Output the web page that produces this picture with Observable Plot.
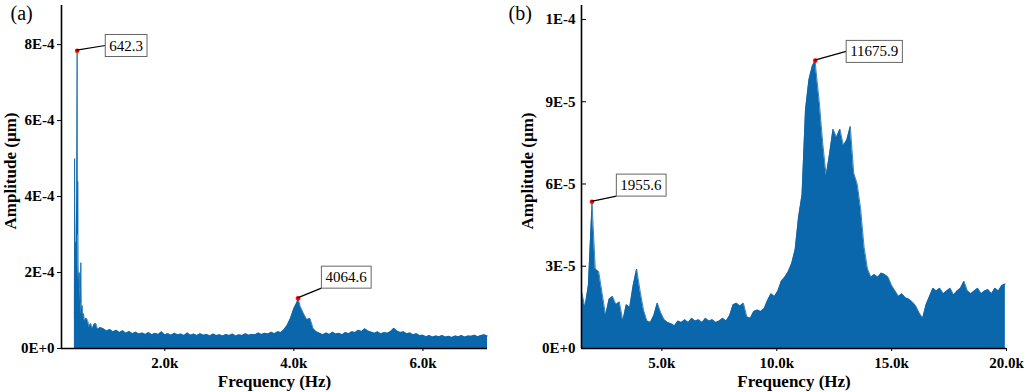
<!DOCTYPE html>
<html>
<head>
<meta charset="utf-8">
<script src="https://cdn.jsdelivr.net/npm/d3@7"></script>
<script src="https://cdn.jsdelivr.net/npm/@observablehq/plot@0.6"></script>
<style>
  html, body { margin: 0; padding: 0; background: #fff; }
  #wrap { display: flex; width: 1024px; height: 392px; overflow: hidden; }
  svg text { font-family: 'Liberation Serif', 'Times New Roman', serif; }
</style>
</head>
<body>
<div id="wrap"></div>
<script>
// ---------- DATA (amplitudes in units of 1e-5 µm) ----------
// Panel (a): low-frequency spike region
const lowFreqA = [600, 603, 608, 615, 622, 630, 636, 648, 652, 658, 666, 675, 688, 700, 708, 720, 730, 740, 760, 780, 805, 830, 850, 880, 905, 930, 960];
const lowAmpA  = [8, 50, 12, 28, 18, 32, 40, 30, 44, 22, 16, 20, 12, 22.6, 9, 11.3, 8, 9.2, 7, 8, 7.4, 5.5, 6.6, 5.2, 6.4, 6.6, 5];
// Panel (a): spectrum envelope from 1000 Hz every 50 Hz up to 7000 Hz
const gridStartA = 1000, gridStepA = 50;
const gridAmpA = [
  5.5,5.2,4.6,5.0,4.4,4.8,4.2,4.7,4.0,4.5,
  3.9,4.3,3.8,4.1,3.7,4.2,3.6,4.0,3.7,4.4,
  3.6,3.9,3.5,4.0,3.6,3.8,3.4,4.1,3.5,3.8,
  3.4,3.9,3.5,3.7,3.3,3.8,3.4,3.6,3.3,3.7,
  3.4,3.8,3.3,3.6,3.4,3.9,3.5,3.7,3.6,4.1,
  3.7,4.0,3.8,4.3,3.9,4.4,4.2,5.0,6.2,8.0,
  10.5,12.2,11.0,9.2,7.6,7.9,5.2,4.4,4.0,3.6,
  4.1,3.7,4.3,3.8,4.0,3.6,4.2,3.9,4.4,4.2,
  4.8,4.5,5.2,4.6,4.3,4.0,4.4,3.8,4.2,4.0,
  4.5,5.3,4.6,4.2,4.4,3.9,4.1,3.6,3.9,3.4,
  3.5,3.1,3.4,3.0,3.3,3.1,3.4,3.0,3.2,2.9,
  3.3,3.1,3.4,3.0,3.3,3.2,3.5,3.1,3.4,3.6,
  3.3
];
const peakFreqA  = [642.3, 4064.6];
const peakAmpA   = [78.4, 13.2];
const peakLabelA = ["642.3", "4064.6"];
const xTicksA = [2000, 4000, 6000];
const xTickLabelsA = ["2.0k", "4.0k", "6.0k"];
const yTicksA = [0, 20, 40, 60, 80];
const yTickLabelsA = ["0E+0", "2E-4", "4E-4", "6E-4", "8E-4"];

// Panel (b): spectrum envelope from 1500 Hz every 150 Hz up to 19950 Hz
const gridStartB = 1500, gridStepB = 150;
const gridAmpB = [
  2.1,1.5,2.3,5.1,2.9,2.8,2.0,1.2,1.8,1.9,1.6,1.7,1.0,1.6,1.5,2.3,2.9,2.1,1.4,1.0,0.95,1.2,1.66,1.3,1.05,
  0.95,0.9,0.83,1.0,0.95,1.05,0.95,1.1,1.0,1.05,0.95,1.1,1.0,1.05,0.95,1.0,1.1,1.0,
  1.2,1.6,1.65,1.55,1.65,1.15,1.1,1.35,1.4,1.35,1.45,1.75,2.0,1.9,2.1,2.45,2.6,2.8,3.1,
  3.6,4.8,5.6,8.7,9.8,10.3,10.2,9.0,7.5,6.3,7.1,8.0,7.7,8.0,7.4,7.6,8.1,6.4,6.0,5.1,3.7,2.9,2.6,
  2.7,2.6,2.75,2.7,2.6,
  2.3,2.1,1.9,2.0,1.85,1.8,1.7,1.55,1.3,1.1,
  1.6,1.9,2.2,2.1,2.2,2.0,2.1,2.2,1.95,2.1,2.2,2.45,
  2.1,2.0,2.1,2.2,2.0,2.1,2.15,2.0,2.2,2.1,2.3,2.35
];
const peakFreqB  = [1955.6, 11675.9];
const peakAmpB   = [5.35, 10.5];
const peakLabelB = ["1955.6", "11675.9"];
const xTicksB = [5000, 10000, 15000, 20000];
const xTickLabelsB = ["5.0k", "10.0k", "15.0k", "20.0k"];
const yTicksB = [0, 3, 6, 9, 12];
const yTickLabelsB = ["0E+0", "3E-5", "6E-5", "9E-5", "1E-4"];

// ---------- BUILD ----------
const BLUE = "#0a67ab";
const FONT = "'Liberation Serif', 'Times New Roman', serif";

function buildSeries(lowF, lowA, start, step, amps, pf, pa) {
  const pts = [];
  lowF.forEach((f, i) => pts.push({ f, a: lowA[i] }));
  amps.forEach((a, i) => pts.push({ f: start + i * step, a }));
  pf.forEach((f, i) => pts.push({ f, a: pa[i] }));
  return pts.sort((p, q) => p.f - q.f);
}
const seriesA = buildSeries(lowFreqA, lowAmpA, gridStartA, gridStepA, gridAmpA, peakFreqA, peakAmpA);
const seriesB = buildSeries([], [], gridStartB, gridStepB, gridAmpB, peakFreqB, peakAmpB);
const peaksA = peakFreqA.map((f, i) => ({ f, a: peakAmpA[i], label: peakLabelA[i] }));
const peaksB = peakFreqB.map((f, i) => ({ f, a: peakAmpB[i], label: peakLabelB[i] }));

function panel(cfg) {
  const xFmt = new Map(cfg.xTicks.map((t, i) => [t, cfg.xTickLabels[i]]));
  const yFmt = new Map(cfg.yTicks.map((t, i) => [t, cfg.yTickLabels[i]]));
  return Plot.plot({
    width: cfg.width, height: 392,
    marginLeft: cfg.marginLeft, marginRight: cfg.marginRight, marginTop: 5, marginBottom: 44,
    style: { fontFamily: FONT, fontSize: "15px", color: "#000", background: "#fff", overflow: "visible" },
    x: { domain: cfg.xDomain },
    y: { domain: cfg.yDomain },
    marks: [
      Plot.areaY(cfg.data, { x: "f", y: "a", fill: BLUE }),
      Plot.lineY(cfg.data, { x: "f", y: "a", stroke: BLUE, strokeWidth: 0.8 }),
      Plot.axisX({ ticks: cfg.xTicks, tickFormat: d => xFmt.get(d), tickSize: 3, tickPadding: 6, fontWeight: "bold", fontFamily: FONT, label: null }),
      Plot.axisY({ ticks: cfg.yTicks, tickFormat: d => yFmt.get(d), tickSize: cfg.yTickSize, tickPadding: cfg.yTickPadding, fontWeight: "bold", fontFamily: FONT, label: null }),
      Plot.ruleX([cfg.xDomain[0]], { stroke: "#000", strokeWidth: 1.6 }),
      Plot.ruleY([0], { stroke: "#000", strokeWidth: 1.6 }),
      Plot.dot(cfg.peaks, { x: "f", y: "a", r: 2.3, fill: "#ff0000" }),
      ...cfg.peaks.map((p, i) => Plot.text([p], {
        x: "f", y: "a", text: "label", dx: cfg.labelOffsets[i][0], dy: cfg.labelOffsets[i][1],
        fontSize: 15, fill: "#000", fontFamily: FONT
      })),
      Plot.text(["Frequency (Hz)"], { frameAnchor: "bottom", lineAnchor: "middle", dy: 33, fontSize: 17, fontWeight: "bold", fontFamily: FONT }),
      Plot.text(["Amplitude (µm)"], { frameAnchor: "left", textAnchor: "middle", lineAnchor: "middle", dx: cfg.yTitleDx, dy: -6, rotate: -90, fontSize: 17, fontWeight: "bold", fontFamily: FONT }),
      Plot.text([cfg.tag], { frameAnchor: "top-left", dx: cfg.tagDx, dy: 8, textAnchor: "start", lineAnchor: "middle", fontSize: 20, fontFamily: FONT })
    ]
  });
}

function decorate(plot, cfg) {
  const svgRect = plot.getBoundingClientRect();
  const xs = plot.scale("x"), ys = plot.scale("y");
  const labels = new Set(cfg.peaks.map(p => p.label));
  const texts = Array.from(plot.querySelectorAll("text")).filter(t => labels.has(t.textContent));
  const ns = "http://www.w3.org/2000/svg";
  texts.forEach(t => {
    const idx = cfg.peaks.findIndex(p => p.label === t.textContent);
    const p = cfg.peaks[idx];
    const r = t.getBoundingClientRect();
    const padX = 4, padY = 3;
    const bx = r.left - svgRect.left - padX, by = r.top - svgRect.top - padY;
    const bw = r.width + 2 * padX, bh = r.height + 2 * padY;
    let group = t;
    while (group.parentNode && group.parentNode !== plot) group = group.parentNode;
    const line = document.createElementNS(ns, "line");
    const px = xs.apply(p.f), py = ys.apply(p.a);
    line.setAttribute("x1", px); line.setAttribute("y1", py);
    line.setAttribute("x2", bx); line.setAttribute("y2", by + cfg.leaderFrac[idx] * bh);
    line.setAttribute("stroke", "#000"); line.setAttribute("stroke-width", "1.2");
    const rect = document.createElementNS(ns, "rect");
    rect.setAttribute("x", bx); rect.setAttribute("y", by);
    rect.setAttribute("width", bw); rect.setAttribute("height", bh);
    rect.setAttribute("fill", "#fff"); rect.setAttribute("stroke", "#666"); rect.setAttribute("stroke-width", "1");
    plot.insertBefore(line, group);
    plot.insertBefore(rect, group);
  });
}

const cfgA = {
  data: seriesA, peaks: peaksA, xDomain: [400, 7000], yDomain: [0, 90.3],
  xTicks: xTicksA, xTickLabels: xTickLabelsA, yTicks: yTicksA, yTickLabels: yTickLabelsA,
  width: 505, marginLeft: 61, marginRight: 18, yTickSize: 4, yTickPadding: 3,
  labelOffsets: [[49, -5], [48, -21]], leaderFrac: [0.5, 1],
  yTitleDx: -51, tag: "(a)", tagDx: -51
};
const cfgB = {
  data: seriesB, peaks: peaksB, xDomain: [1500, 20000], yDomain: [0, 12.51],
  xTicks: xTicksB, xTickLabels: xTickLabelsB, yTicks: yTicksB, yTickLabels: yTickLabelsB,
  width: 519, marginLeft: 76, marginRight: 18, yTickSize: -5, yTickPadding: 11,
  labelOffsets: [[49, -16.5], [59, -9]], leaderFrac: [1, 0.5],
  yTitleDx: -54, tag: "(b)", tagDx: -73
};

const wrap = document.getElementById("wrap");
[cfgA, cfgB].forEach(cfg => {
  const p = panel(cfg);
  wrap.appendChild(p);
  decorate(p, cfg);
});
</script>
</body>
</html>
